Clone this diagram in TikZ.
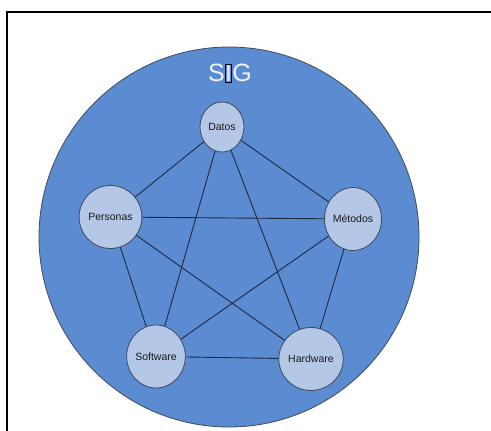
\documentclass[tikz,border=0pt]{standalone}
\usepackage{fontspec}
\setmainfont{Liberation Sans}
\usetikzlibrary{shapes.geometric}
\definecolor{sigblue}{HTML}{5B8BD0}
\definecolor{nodefill}{HTML}{B4C7E7}
\definecolor{rimgray}{HTML}{3F4A5C}
\definecolor{linkcol}{HTML}{1E2A44}
\definecolor{titlecol}{HTML}{EEF2FA}
% the I of the title, shown with a thin dark outline like a text cursor
\newcommand{\cursorI}{{\fboxsep=0pt\fboxrule=0.9pt\color{black}\fbox{\kern-0.6pt\color{titlecol}I\kern-0.6pt}}}
\tikzset{
  frameline/.style={line width=2pt, black},
  system/.style={draw=rimgray, line width=0.8pt, fill=sigblue},
  part/.style={ellipse, draw=rimgray, line width=0.8pt, fill=nodefill,
    inner sep=0pt, text=black!90, font=\fontsize{10.5}{12}\selectfont},
  bigpart/.style={part, minimum width=57pt, minimum height=63pt},
  smallpart/.style={part, minimum width=44pt, minimum height=50pt},
  link/.style={linkcol, line width=0.9pt},
}
\begin{document}
\begin{tikzpicture}[x=1pt, y=-1pt]
  \useasboundingbox (0,0) rectangle (491,431);
  % open frame: left and top edges
  \coordinate (fbot) at (7,432);
  \coordinate (fcorner) at (7,12);
  \coordinate (fright) at (492,12);
  \draw[frameline] (fbot) -- (fcorner) -- (fright);
  % the system boundary
  \node[system, circle, minimum size=380pt, inner sep=0pt] (sig) at (229,237) {};
  \node[text=titlecol, font=\fontsize{25}{28}\selectfont] (title) at (230,73) {S\cursorI G};
  % components
  \node[smallpart] (datos) at (222,127) {Datos};
  \node[bigpart] (personas) at (110.5,217) {Personas};
  \node[bigpart] (metodos) at (353,219) {Métodos};
  \node[bigpart] (software) at (156,356.5) {Software};
  \node[bigpart] (hardware) at (311,359) {Hardware};
  % every component is linked to every other one
  \foreach \a/\b in {datos/personas, datos/metodos, datos/software, datos/hardware,
                     personas/metodos, personas/software, personas/hardware,
                     metodos/software, metodos/hardware, software/hardware}
    \draw[link] (\a) -- (\b);
\end{tikzpicture}
\end{document}
